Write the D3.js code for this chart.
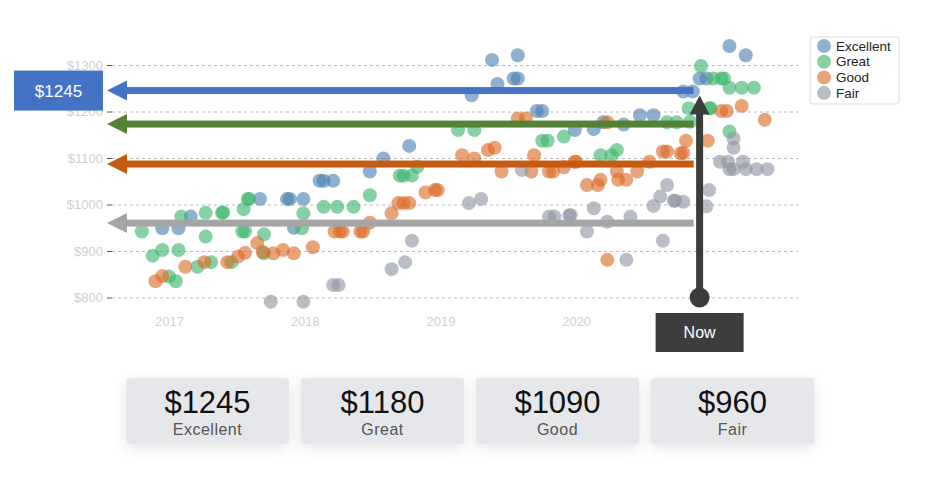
<!DOCTYPE html>
<html>
<head>
<meta charset="utf-8">
<script src="https://cdn.jsdelivr.net/npm/d3@7"></script>
<style>
    body { margin: 0; background: #fff; }
    svg { font-family: "Liberation Sans", Arial, sans-serif; }
</style>
</head>
<body>
<svg id="chart" width="936" height="480"></svg>
<script>
// [year, price]
const excellent = [
    [2016.95, 949], [2017.07, 949], [2017.16, 974], [2017.67, 1012], [2017.87, 1012], [2017.89, 1012],
    [2017.99, 1012], [2017.92, 950], [2018.11, 1051], [2018.14, 1051], [2018.21, 1051], [2018.48, 1071],
    [2018.58, 1099], [2018.77, 1126], [2019.23, 1235], [2019.38, 1311], [2019.42, 1259], [2019.54, 1271],
    [2019.57, 1271], [2019.57, 1321], [2019.71, 1201], [2019.75, 1201], [2019.99, 1160], [2020.13, 1162],
    [2020.20, 1177], [2020.35, 1172], [2020.47, 1192], [2020.57, 1192], [2020.79, 1243], [2020.86, 1243],
    [2020.91, 1271], [2020.96, 1271], [2021.13, 1341], [2021.25, 1321]
];
const great = [
    [2016.80, 942], [2016.88, 890], [2016.95, 902], [2017.07, 902], [2017.09, 974], [2017.27, 982],
    [2017.27, 931], [2017.39, 982], [2017.40, 983], [2017.55, 990], [2017.58, 1012], [2017.59, 1012],
    [2017.54, 942], [2017.56, 942], [2017.05, 835], [2017.00, 845], [2017.21, 866], [2017.31, 876],
    [2017.46, 876], [2017.70, 936], [2017.70, 895], [2017.99, 981], [2017.98, 949], [2018.14, 995],
    [2018.24, 995], [2018.36, 995], [2018.48, 1020], [2018.70, 1062], [2018.73, 1062], [2018.79, 1062],
    [2018.83, 1081], [2019.13, 1160], [2019.25, 1160], [2019.75, 1137], [2019.79, 1137], [2019.91, 1146],
    [2020.18, 1106], [2020.26, 1106], [2020.30, 1117], [2020.67, 1177], [2020.74, 1177], [2020.84, 1178],
    [2020.83, 1207], [2020.98, 1207], [2020.99, 1207], [2020.92, 1298], [2021.01, 1271], [2021.07, 1271],
    [2021.09, 1271], [2021.13, 1251], [2021.22, 1251], [2021.31, 1251], [2021.13, 1157]
];
const good = [
    [2016.90, 835], [2016.95, 846], [2017.12, 866], [2017.26, 876], [2017.43, 876], [2017.51, 888],
    [2017.56, 896], [2017.65, 917], [2017.69, 898], [2017.77, 895], [2017.84, 902], [2017.92, 895],
    [2018.06, 908], [2018.22, 942], [2018.26, 942], [2018.28, 942], [2018.41, 942], [2018.43, 942],
    [2018.48, 961], [2018.64, 981], [2018.69, 1003], [2018.73, 1003], [2018.77, 1003], [2018.89, 1026],
    [2018.96, 1031], [2018.98, 1031], [2019.16, 1106], [2019.25, 1099], [2019.35, 1117], [2019.40, 1122],
    [2019.45, 1071], [2019.57, 1185], [2019.63, 1185], [2019.67, 1071], [2019.69, 1106], [2019.80, 1071],
    [2019.83, 1071], [2019.91, 1080], [2019.99, 1092], [2020.00, 1092], [2020.08, 1042], [2020.16, 1042],
    [2020.18, 1053], [2020.31, 1053], [2020.37, 1053], [2020.30, 1071], [2020.45, 1071], [2020.54, 1092],
    [2020.64, 1114], [2020.67, 1114], [2020.77, 1110], [2020.23, 881], [2020.23, 1177], [2021.07, 1201],
    [2021.11, 1201], [2021.22, 1212], [2021.39, 1182], [2020.81, 1137], [2020.97, 1137], [2020.79, 1111]
];
const fair = [
    [2017.75, 791], [2017.99, 791], [2018.21, 827], [2018.25, 827], [2018.64, 861], [2018.74, 876],
    [2018.79, 922], [2019.21, 1003], [2019.30, 1012], [2019.60, 1074], [2019.80, 974], [2019.84, 974],
    [2019.95, 977], [2019.96, 977], [2020.13, 992], [2020.08, 942], [2020.23, 963], [2020.40, 974],
    [2020.37, 881], [2020.57, 997], [2020.62, 1017], [2020.67, 1042], [2020.72, 1008], [2020.73, 1008],
    [2020.64, 922], [2020.79, 1006], [2020.98, 1031], [2020.96, 996], [2021.16, 1142], [2021.16, 1122],
    [2021.06, 1092], [2021.12, 1092], [2021.13, 1076], [2021.16, 1076], [2021.23, 1092], [2021.25, 1076],
    [2021.33, 1076], [2021.41, 1076]
];

const categories = ["Excellent", "Great", "Good", "Fair"];
const currentPrices = [1245, 1180, 1090, 960];
// where each arrow is drawn on the price axis
const arrowLevels = [1245, 1173, 1087, 960];
const yTicks = [800, 900, 1000, 1100, 1200, 1300];
const xTicks = [2017, 2018, 2019, 2020];
const nowYear = 2020.91;

const dotColors = ["#4a7fb0", "#3bb56b", "#dc6a27", "#8e96a3"];
const arrowColors = ["#4472c4", "#548235", "#c55a11", "#a5a5a5"];
const series = [excellent, great, good, fair];

const svg = d3.select("#chart");

const x = d3.scaleLinear().domain([2016.543, 2021.635]).range([107, 798]);
const y = d3.scaleLinear().domain([800, 1300]).range([297.5, 65]);

// drop shadow for the cards
const defs = svg.append("defs");
const f = defs.append("filter").attr("id", "shadow")
    .attr("x", "-30%").attr("y", "-40%").attr("width", "160%").attr("height", "180%");
f.append("feDropShadow").attr("dx", 0).attr("dy", 4).attr("stdDeviation", 7)
    .attr("flood-color", "#000").attr("flood-opacity", 0.1);

// grid
const grid = svg.append("g").attr("transform", "translate(112,0)")
    .call(d3.axisLeft(y).tickValues(yTicks).tickSize(-(798 - 112)).tickFormat(""));
grid.select(".domain").remove();
grid.selectAll("line").attr("stroke", "#bbb").attr("stroke-dasharray", "3,3");

// y axis
const yAxisG = svg.append("g").attr("transform", "translate(112,0)")
    .call(d3.axisLeft(y).tickValues(yTicks).tickSize(5).tickPadding(4).tickFormat(d => "$" + d));
yAxisG.select(".domain").remove();
yAxisG.selectAll("line").attr("stroke", "#555");
yAxisG.selectAll("text").attr("fill", "#cfcfcf").style("font-size", "13px");

// x axis
const xAxisG = svg.append("g").attr("transform", "translate(0,305)")
    .call(d3.axisBottom(x).tickValues(xTicks).tickSize(0).tickPadding(12).tickFormat(d3.format("d")));
xAxisG.select(".domain").remove();
xAxisG.selectAll("text").attr("fill", "#cfcfcf").style("font-size", "13px");

// dots
const dots = svg.append("g");
series.forEach((s, i) => {
    dots.selectAll(".dot" + i)
        .data(s)
        .enter().append("circle")
        .attr("class", "dot" + i)
        .attr("cx", d => x(d[0]))
        .attr("cy", d => y(d[1]))
        .attr("r", 7)
        .attr("fill", dotColors[i])
        .attr("fill-opacity", 0.62);
});

// horizontal arrows from "now" back to the axis
const arrows = svg.append("g");
arrowLevels.forEach((p, i) => {
    const yy = y(p);
    arrows.append("rect")
        .attr("x", 125).attr("y", yy - 3.5)
        .attr("width", x(nowYear) - 6 - 125).attr("height", 7)
        .attr("fill", arrowColors[i]);
    arrows.append("path")
        .attr("d", `M107,${yy} L127,${yy - 10} L127,${yy + 10} Z`)
        .attr("fill", arrowColors[i]);
});

// price label for the top category
const topY = y(arrowLevels[0]);
svg.append("rect").attr("x", 14).attr("y", topY - 20).attr("width", 89).attr("height", 40)
    .attr("fill", arrowColors[0]);
svg.append("text").attr("x", 58.5).attr("y", topY).attr("dy", "0.35em")
    .attr("text-anchor", "middle").attr("fill", "#fff").style("font-size", "17px")
    .text("$" + currentPrices[0]);

// "Now" marker
const nx = x(nowYear);
const tipY = y(arrowLevels[0]) + 5;
svg.append("rect").attr("x", nx - 3.5).attr("y", tipY + 15).attr("width", 7)
    .attr("height", y(800) - tipY - 15).attr("fill", "#3c3c3c");
svg.append("path").attr("d", `M${nx},${tipY} L${nx - 10},${tipY + 19} L${nx + 10},${tipY + 19} Z`)
    .attr("fill", "#3c3c3c");
svg.append("circle").attr("cx", nx).attr("cy", y(800)).attr("r", 10).attr("fill", "#3c3c3c");
svg.append("rect").attr("x", nx - 44).attr("y", 313).attr("width", 88).attr("height", 39)
    .attr("fill", "#3d3d3d");
svg.append("text").attr("x", nx).attr("y", 332.5).attr("dy", "0.35em")
    .attr("text-anchor", "middle").attr("fill", "#fff").style("font-size", "16px").text("Now");

// legend
const legend = svg.append("g").attr("transform", "translate(810,37)");
legend.append("rect").attr("width", 89).attr("height", 67).attr("rx", 3)
    .attr("fill", "#fff").attr("stroke", "#ddd");
categories.forEach((c, i) => {
    const g = legend.append("g").attr("transform", `translate(0,${9 + i * 15.7})`);
    g.append("circle").attr("cx", 14).attr("cy", 0).attr("r", 7)
        .attr("fill", dotColors[i]).attr("fill-opacity", 0.62);
    g.append("text").attr("x", 26).attr("y", 0).attr("dy", "0.35em")
        .attr("fill", "#222").style("font-size", "13.5px").text(c);
});

// summary cards
const cards = svg.append("g");
categories.forEach((c, i) => {
    const cx = 126 + i * 175;
    cards.append("rect").attr("x", cx).attr("y", 378).attr("width", 163).attr("height", 66)
        .attr("rx", 3).attr("fill", "#e6e7ea").attr("filter", "url(#shadow)");
    cards.append("text").attr("x", cx + 81.5).attr("y", 413)
        .attr("text-anchor", "middle").attr("fill", "#111").style("font-size", "31px")
        .text("$" + currentPrices[i]);
    cards.append("text").attr("x", cx + 81.5).attr("y", 435)
        .attr("text-anchor", "middle").attr("fill", "#555").style("font-size", "16px")
        .style("letter-spacing", "0.5px").text(c);
});
</script>
</body>
</html>
